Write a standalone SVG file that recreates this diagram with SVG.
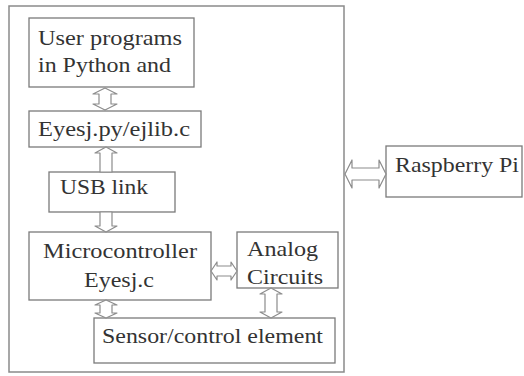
<svg xmlns="http://www.w3.org/2000/svg" width="524" height="376" viewBox="0 0 524 376">
<style>
.box{fill:#fff;stroke:#7a7a7a;stroke-width:1.3}
.outer{fill:#fff;stroke:#8a8a8a;stroke-width:1.5}
text{font-size:21px;fill:#333}
.arr{fill:#fff;stroke:#8c8c8c;stroke-width:1.2;stroke-linejoin:round}
</style>
<rect width="524" height="376" fill="#fff"/>
<g id="system">
<rect class="outer" x="9" y="6" width="335" height="366"/>
</g>
<g id="user-programs">
<rect class="box" x="29" y="18" width="165" height="69"/>
<text font-family="Liberation Serif, serif" x="38" y="45" textLength="144" lengthAdjust="spacingAndGlyphs">User programs</text>
<text font-family="Liberation Serif, serif" x="38" y="72" textLength="133" lengthAdjust="spacingAndGlyphs">in Python and</text>
</g>
<g id="eyesj-lib">
<rect class="box" x="29" y="111" width="172" height="36"/>
<text font-family="Liberation Serif, serif" x="38" y="136" textLength="152" lengthAdjust="spacingAndGlyphs">Eyesj.py/ejlib.c</text>
</g>
<g id="usb-link">
<rect class="box" x="49" y="172" width="126" height="40"/>
<text font-family="Liberation Serif, serif" x="60" y="194" textLength="88" lengthAdjust="spacingAndGlyphs">USB link</text>
</g>
<g id="microcontroller">
<rect class="box" x="29" y="232" width="182" height="68"/>
<text font-family="Liberation Serif, serif" x="43" y="258" textLength="154" lengthAdjust="spacingAndGlyphs">Microcontroller</text>
<text font-family="Liberation Serif, serif" x="84" y="287" textLength="70" lengthAdjust="spacingAndGlyphs">Eyesj.c</text>
</g>
<g id="analog">
<rect class="box" x="237" y="232" width="101" height="56"/>
<text font-family="Liberation Serif, serif" x="247" y="256" textLength="71" lengthAdjust="spacingAndGlyphs">Analog</text>
<text font-family="Liberation Serif, serif" x="247" y="284" textLength="76" lengthAdjust="spacingAndGlyphs">Circuits</text>
</g>
<g id="sensor">
<rect class="box" x="94" y="318" width="241" height="45"/>
<text font-family="Liberation Serif, serif" x="102" y="343" textLength="221" lengthAdjust="spacingAndGlyphs">Sensor/control element</text>
</g>
<g id="raspberry-pi">
<rect class="box" x="386" y="146" width="136" height="51"/>
<text font-family="Liberation Serif, serif" x="395" y="172" textLength="124" lengthAdjust="spacingAndGlyphs">Raspberry Pi</text>
</g>
<g id="connectors">
<path class="arr" d="M105,88 L117,94 L111,94 L111,104 L117,104 L105,110 L93,104 L99,104 L99,94 L93,94 Z"/>
<path class="arr" d="M106,147 L117,153 L112,153 L112,172 L100,172 L100,153 L95,153 Z"/>
<path class="arr" d="M100,212 L112,212 L112,226 L117,226 L106,232 L95,226 L100,226 Z"/>
<path class="arr" d="M106,300 L117,305 L112,305 L112,313 L117,313 L106,318 L95,313 L100,313 L100,305 L95,305 Z"/>
<path class="arr" d="M211,271 L217,262 L217,266 L231,266 L231,262 L237,271 L231,280 L231,276 L217,276 L217,280 Z"/>
<path class="arr" d="M271,288 L282,294 L277,294 L277,312 L282,312 L271,318 L260,312 L265,312 L265,294 L260,294 Z"/>
<path class="arr" d="M345,174 L352,160 L352,168 L379,168 L379,160 L386,174 L379,188 L379,180 L352,180 L352,188 Z"/>
</g>
</svg>
